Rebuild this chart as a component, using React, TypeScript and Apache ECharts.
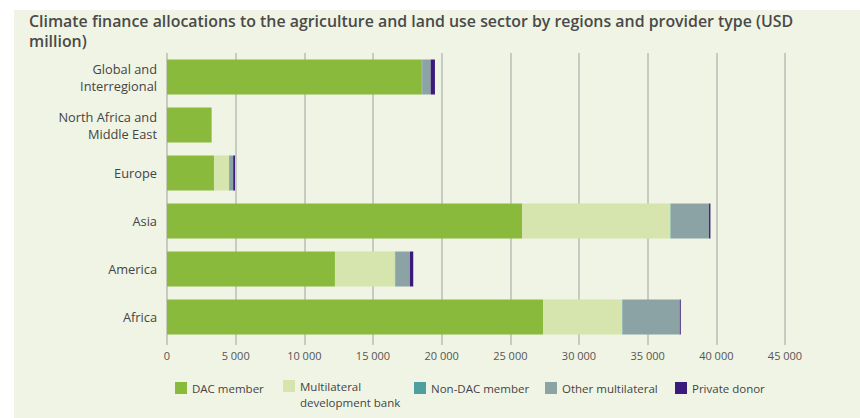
import React, { useEffect, useRef } from "react";
import * as echarts from "echarts";

const categories = [
  "Africa",
  "America",
  "Asia",
  "Europe",
  "North Africa and\nMiddle East",
  "Global and\nInterregional",
];
const seriesNames = [
  "DAC member",
  "Multilateral development bank",
  "Non-DAC member",
  "Other multilateral",
  "Private donor",
];
const dacMember = [27390, 12230, 25860, 3420, 3250, 18540];
const multilateralDevBank = [5750, 4370, 10800, 1100, 0, 0];
const nonDacMember = [30, 20, 30, 50, 0, 40];
const otherMultilateral = [4170, 1070, 2780, 250, 0, 620];
const privateDonor = [70, 240, 100, 130, 0, 310];
const xTicks = [0, 5000, 10000, 15000, 20000, 25000, 30000, 35000, 40000, 45000];

const colors = ["#8aba3c", "#d6e4ad", "#4f9fa0", "#8ca3a6", "#3a1a7a"];
const FONT = "'Open Sans', 'Noto Sans', sans-serif";

export default function App() {
  const ref = useRef<HTMLDivElement>(null);
  useEffect(() => {
    if (!ref.current) return;
    const chart = echarts.init(ref.current, null, { renderer: "svg" });
    const values = [dacMember, multilateralDevBank, nonDacMember, otherMultilateral, privateDonor];
    const legendLefts = [170, 278, 409, 540, 670];
    chart.setOption({
      animation: false,
      backgroundColor: "transparent",
      textStyle: { fontFamily: FONT },
      title: {
        text: "Climate finance allocations to the agriculture and land use sector by regions and provider type (USD\nmillion)",
        left: 24,
        top: 6,
        textStyle: {
          fontFamily: FONT,
          fontSize: 15.9,
          fontWeight: 600,
          color: "#4a4a4a",
          lineHeight: 20,
        },
      },
      grid: { left: 167, right: 75, top: 53, bottom: 77, containLabel: false },
      xAxis: {
        type: "value",
        min: xTicks[0],
        max: xTicks[xTicks.length - 1],
        interval: xTicks[1] - xTicks[0],
        axisLine: { show: false },
        axisTick: { show: true, length: 4, lineStyle: { color: "#c8cbc2", width: 2 } },
        splitLine: { show: true, lineStyle: { color: "#c8cbc2", width: 2 } },
        axisLabel: {
          color: "#555",
          fontSize: 11,
          fontFamily: FONT,
          margin: 9,
          formatter: (v: number) =>
            v === 0 ? "0" : String(v).replace(/\B(?=(\d{3})+(?!\d))/g, " "),
        },
      },
      yAxis: {
        type: "category",
        data: categories,
        axisLine: { show: false },
        axisTick: { show: false },
        axisLabel: {
          color: "#444",
          fontSize: 12.8,
          fontFamily: FONT,
          margin: 10,
          lineHeight: 17,
          align: "right",
        },
      },
      legend: seriesNames.map((name, i) => ({
        data: [name],
        left: legendLefts[i],
        top: i === 1 ? 357 : 375,
        itemWidth: 12,
        itemHeight: 12,
        itemGap: 8,
        icon: "rect",
        formatter: (n: string) =>
          n === "Multilateral development bank" ? "\nMultilateral\ndevelopment bank" : n,
        textStyle: {
          color: "#444",
          fontSize: 11.5,
          fontFamily: FONT,
          lineHeight: 16,
        },
      })),
      series: seriesNames.map((name, i) => ({
        name,
        type: "bar",
        stack: "total",
        data: values[i],
        barWidth: 35,
        itemStyle: { color: colors[i] },
      })),
    });
    return () => chart.dispose();
  }, []);
  return (
    <div style={{ position: "absolute", left: 0, top: 0, width: 860, height: 418, background: "#fff" }}>
      <div
        style={{ position: "absolute", left: 14, top: 10, width: 846, height: 408, background: "#f0f4e4" }}
      />
      <div ref={ref} style={{ position: "absolute", left: 0, top: 0, width: 860, height: 418 }} />
    </div>
  );
}
